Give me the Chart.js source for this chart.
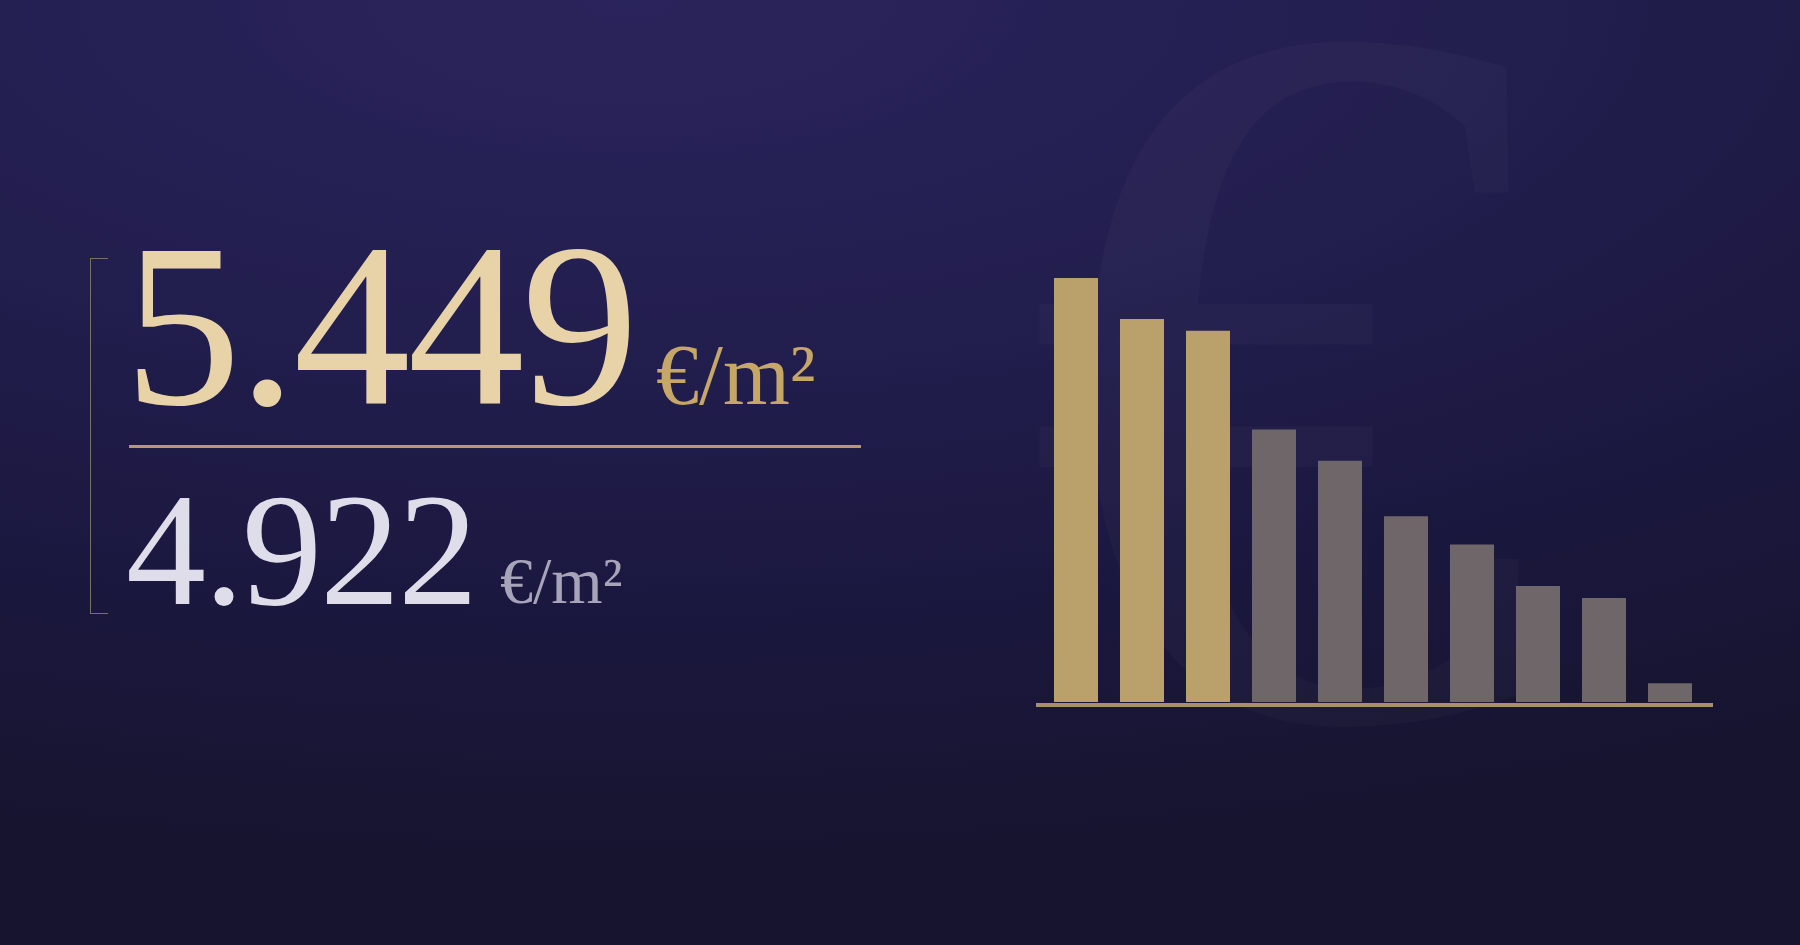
<!DOCTYPE html>
<html>
<head>
<meta charset="utf-8">
<script src="https://cdn.jsdelivr.net/npm/chart.js@4/dist/chart.umd.min.js"></script>
<style>
  html, body { margin: 0; padding: 0; }
  body {
    width: 1800px; height: 945px; overflow: hidden; position: relative;
    background: radial-gradient(ellipse 120% 90% at 35% 0%, #2a245c 0%, #221e4e 40%, #1b1840 70%, #171430 100%);
    font-family: "Liberation Serif", "DejaVu Serif", serif;
  }
  .abs { position: absolute; white-space: nowrap; line-height: 1; }
  #euro { left: 1024px; top: 6px; font-size: 1020px; line-height: 0.72; color: rgba(255,255,255,0.025); }
  #big { left: 124px; top: 208px; font-size: 234px; letter-spacing: -3px; color: #e8d3a8; }
  #bigUnit { left: 656px; top: 332px; font-size: 86px; color: #c6a767; }
  #small { left: 126px; top: 470px; font-size: 160px; letter-spacing: -2px; color: #dedde9; }
  #smallUnit { left: 500px; top: 548px; font-size: 66px; color: #a7a4ba; }
  #rule { left: 129px; top: 445px; width: 732px; height: 3px; background: #b59a6c; }
  #bracket { left: 90px; top: 258px; width: 17px; height: 354px;
    border-left: 1.5px solid #7b6d68; border-top: 1.5px solid #7b6d68; border-bottom: 1.5px solid #7b6d68; }
  #chartBox { position: absolute; left: 0; top: 0; width: 1800px; height: 945px; }
</style>
</head>
<body>
<div id="euro" class="abs">€</div>
<div id="bracket" class="abs"></div>
<div id="big" class="abs">5.449</div>
<div id="bigUnit" class="abs">€/m²</div>
<div id="rule" class="abs"></div>
<div id="small" class="abs">4.922</div>
<div id="smallUnit" class="abs">€/m²</div>
<div id="chartBox"><canvas id="myChart" width="1800" height="945"></canvas></div>

<script>
// price per m², one bar per rank, highest first
const labels = ['1', '2', '3', '4', '5', '6', '7', '8', '9', '10'];
const prices = [5449, 4922, 4770, 3500, 3100, 2385, 2025, 1490, 1335, 240];
const highlighted = 3; // first bars drawn in gold

const gold = '#baa06b';
const grey = '#6e6668';

// baseline under the bars, a bit wider than the plot area
const baseLine = {
  id: 'baseLine',
  afterDatasetsDraw(chart) {
    const { ctx, chartArea } = chart;
    const y = chart.scales.y.getPixelForValue(0) + 3;
    ctx.save();
    ctx.strokeStyle = '#a88f6f';
    ctx.lineWidth = 4;
    ctx.beginPath();
    ctx.moveTo(chartArea.left - 7, y);
    ctx.lineTo(chartArea.right + 10, y);
    ctx.stroke();
    ctx.restore();
  }
};

const ctx = document.getElementById('myChart').getContext('2d');
new Chart(ctx, {
  type: 'bar',
  data: {
    labels: labels,
    datasets: [
      {
        label: '€/m²',
        data: prices,
        backgroundColor: prices.map((v, i) => (i < highlighted ? gold : grey)),
        borderWidth: 0,
        barPercentage: 1,
        categoryPercentage: 0.667,
      },
    ],
  },
  options: {
    responsive: false,
    animation: false,
    devicePixelRatio: 1,
    layout: {
      padding: { left: 1043, right: 97, top: 235, bottom: 243 },
    },
    plugins: {
      legend: { display: false },
      tooltip: { enabled: false },
    },
    scales: {
      x: { display: false },
      y: { display: false, min: 0, max: 6000 },
    },
  },
  plugins: [baseLine],
});
</script>
</body>
</html>
